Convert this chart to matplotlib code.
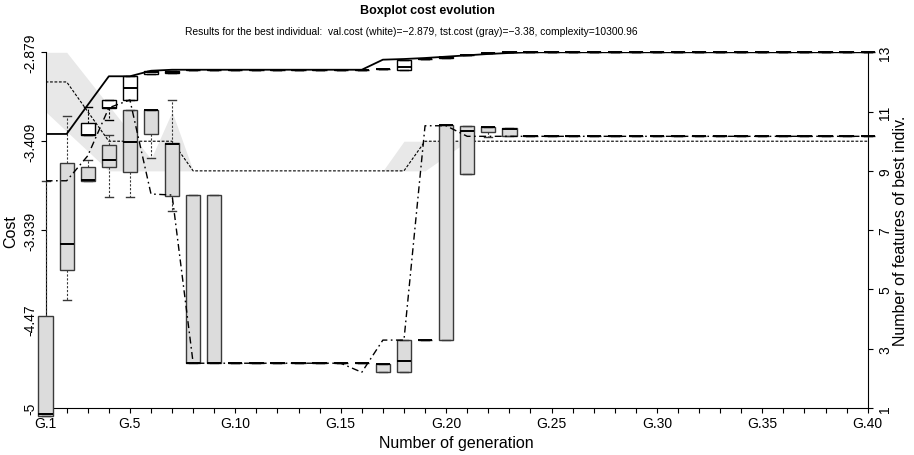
import matplotlib.pyplot as plt
import numpy as np

plt.rcParams['font.family'] = ['Liberation Sans', 'DejaVu Sans']

nan = np.nan
generations = np.arange(1, 41)
label_gens = [1, 5, 10, 15, 20, 25, 30, 35, 40]

# validation cost per generation (white boxes)
val_lo = [nan, nan, -3.370, -3.283, -3.162, -3.008, -3.004, -2.983, -2.983, -2.983,
          -2.983, -2.983, -2.983, -2.983, -2.983, -2.983, -2.979, -2.983, -2.919, -2.913,
          -2.897, -2.885, -2.879, -2.879, -2.879, -2.879, -2.879, -2.879, -2.879, -2.879,
          -2.879, -2.879, -2.879, -2.879, -2.879, -2.879, -2.879, -2.879, -2.879, -2.879]
val_q1 = [nan, nan, -3.370, -3.213, -3.162, -3.008, -3.004, -2.983, -2.983, -2.983,
          -2.983, -2.983, -2.983, -2.983, -2.983, -2.983, -2.979, -2.983, -2.919, -2.913,
          -2.897, -2.885, -2.879, -2.879, -2.879, -2.879, -2.879, -2.879, -2.879, -2.879,
          -2.879, -2.879, -2.879, -2.879, -2.879, -2.879, -2.879, -2.879, -2.879, -2.879]
val_med = [nan, nan, -3.370, -3.213, -3.092, -2.999, -2.998, -2.983, -2.983, -2.983,
           -2.983, -2.983, -2.983, -2.983, -2.983, -2.983, -2.979, -2.965, -2.919, -2.905,
           -2.895, -2.885, -2.879, -2.879, -2.879, -2.879, -2.879, -2.879, -2.879, -2.879,
           -2.879, -2.879, -2.879, -2.879, -2.879, -2.879, -2.879, -2.879, -2.879, -2.879]
val_q3 = [nan, nan, -3.302, -3.163, -3.022, -2.992, -2.992, -2.983, -2.983, -2.983,
          -2.983, -2.983, -2.983, -2.983, -2.983, -2.983, -2.979, -2.923, -2.919, -2.905,
          -2.893, -2.885, -2.879, -2.879, -2.879, -2.879, -2.879, -2.879, -2.879, -2.879,
          -2.879, -2.879, -2.879, -2.879, -2.879, -2.879, -2.879, -2.879, -2.879, -2.879]
val_hi = [nan, nan, -3.207, -3.163, -3.022, -2.992, -2.992, -2.983, -2.983, -2.983,
          -2.983, -2.983, -2.983, -2.983, -2.983, -2.983, -2.979, -2.923, -2.919, -2.905,
          -2.893, -2.885, -2.879, -2.879, -2.879, -2.879, -2.879, -2.879, -2.879, -2.879,
          -2.879, -2.879, -2.879, -2.879, -2.879, -2.879, -2.879, -2.879, -2.879, -2.879]

# test cost per generation (gray boxes)
tst_lo = [-5.046, -4.354, -3.648, -3.740, -3.740, -3.509, -3.823, -4.733, -4.733, -4.733,
          -4.733, -4.733, -4.733, -4.733, -4.733, -4.733, -4.787, -4.787, -4.595, -4.595,
          -3.605, -3.386, -3.380, -3.380, -3.380, -3.380, -3.380, -3.380, -3.380, -3.380,
          -3.380, -3.380, -3.380, -3.380, -3.380, -3.380, -3.380, -3.380, -3.380, -3.380]
tst_q1 = [-5.046, -4.175, -3.648, -3.561, -3.595, -3.366, -3.734, -4.733, -4.733, -4.733,
          -4.733, -4.733, -4.733, -4.733, -4.733, -4.733, -4.787, -4.787, -4.595, -4.595,
          -3.605, -3.356, -3.380, -3.380, -3.380, -3.380, -3.380, -3.380, -3.380, -3.380,
          -3.380, -3.380, -3.380, -3.380, -3.380, -3.380, -3.380, -3.380, -3.380, -3.380]
tst_med = [-5.036, -4.024, -3.640, -3.519, -3.416, -3.226, -3.426, -4.733, -4.733, -4.733,
           -4.733, -4.733, -4.733, -4.733, -4.733, -4.733, -4.740, -4.722, -4.595, -3.312,
           -3.350, -3.326, -3.336, -3.380, -3.380, -3.380, -3.380, -3.380, -3.380, -3.380,
           -3.380, -3.380, -3.380, -3.380, -3.380, -3.380, -3.380, -3.380, -3.380, -3.380]
tst_q3 = [-4.451, -3.541, -3.561, -3.430, -3.221, -3.221, -3.420, -3.730, -3.730, -4.733,
          -4.733, -4.733, -4.733, -4.733, -4.733, -4.733, -4.738, -4.595, -4.595, -3.312,
          -3.320, -3.323, -3.332, -3.380, -3.380, -3.380, -3.380, -3.380, -3.380, -3.380,
          -3.380, -3.380, -3.380, -3.380, -3.380, -3.380, -3.380, -3.380, -3.380, -3.380]
tst_hi = [-3.645, -3.261, -3.519, -3.370, -3.221, -3.221, -3.163, -3.730, -3.730, -4.733,
          -4.733, -4.733, -4.733, -4.733, -4.733, -4.733, -4.738, -4.595, -4.595, -3.312,
          -3.320, -3.323, -3.332, -3.380, -3.380, -3.380, -3.380, -3.380, -3.380, -3.380,
          -3.380, -3.380, -3.380, -3.380, -3.380, -3.380, -3.380, -3.380, -3.380, -3.380]

# best individual of each generation
best_val = [-3.366, -3.366, -3.193, -3.022, -3.022, -2.989, -2.983, -2.983, -2.983, -2.983,
            -2.983, -2.983, -2.983, -2.983, -2.983, -2.983, -2.923, -2.919, -2.913, -2.905,
            -2.897, -2.889, -2.883, -2.879, -2.879, -2.879, -2.879, -2.879, -2.879, -2.879,
            -2.879, -2.879, -2.879, -2.879, -2.879, -2.879, -2.879, -2.879, -2.879, -2.879]
best_tst = [-3.645, -3.645, -3.496, -3.210, -3.163, -3.724, -3.730, -4.733, -4.733, -4.733,
            -4.733, -4.733, -4.733, -4.733, -4.733, -4.787, -4.595, -4.595, -3.317, -3.317,
            -3.380, -3.380, -3.380, -3.380, -3.380, -3.380, -3.380, -3.380, -3.380, -3.380,
            -3.380, -3.380, -3.380, -3.380, -3.380, -3.380, -3.380, -3.380, -3.380, -3.380]

# number of features: best individual and population range
best_nfs = [12, 12, 11, 10, 10, 10, 10, 9, 9, 9,
            9, 9, 9, 9, 9, 9, 9, 9, 10, 10,
            10, 10, 10, 10, 10, 10, 10, 10, 10, 10,
            10, 10, 10, 10, 10, 10, 10, 10, 10, 10]
nfs_hi = [13, 13, 12.1, 11.2, 10.3, 9.4, 11, 9, 9, 9,
          9, 9, 9, 9, 9, 9, 9, 10, 10, 10,
          10, 10, 10, 10, 10, 10, 10, 10, 10, 10,
          10, 10, 10, 10, 10, 10, 10, 10, 10, 10]
nfs_lo = [11, 10.33, 9.67, 9, 9, 9, 9, 9, 9, 9,
          9, 9, 9, 9, 9, 9, 9, 9, 9, 9.5,
          10, 10, 10, 10, 10, 10, 10, 10, 10, 10,
          10, 10, 10, 10, 10, 10, 10, 10, 10, 10]

cost_ticks = [-5, -4.47, -3.939, -3.409, -2.879]
nfs_ticks = [1, 3, 5, 7, 9, 11, 13]


def box_stats(lo, q1, med, q3, hi):
    stats, pos = [], []
    for g, a, b, c, d, e in zip(generations, lo, q1, med, q3, hi):
        if np.isnan(c):
            continue
        stats.append(dict(whislo=a, q1=b, med=c, q3=d, whishi=e, fliers=[]))
        pos.append(g)
    return stats, pos


def draw_boxes(ax, lo, q1, med, q3, hi, face, edge):
    stats, pos = box_stats(lo, q1, med, q3, hi)
    art = ax.bxp(stats, positions=pos, widths=0.68, patch_artist=True,
                 showfliers=False, manage_ticks=False, capwidths=0.38,
                 boxprops=dict(facecolor=face, edgecolor=edge, linewidth=1.0),
                 medianprops=dict(color='black', linewidth=1.4, solid_capstyle='butt'),
                 whiskerprops=dict(color=edge, linewidth=0.8, linestyle=(0, (2, 1.5))),
                 capprops=dict(color=edge, linewidth=1.0),
                 zorder=3)
    for group in art.values():
        for a in group:
            a.set_clip_on(False)


fig = plt.figure(figsize=(9.14, 4.56), dpi=100)
rect = [0.04989, 0.10307, 0.89946, 0.78004]
ax = fig.add_axes(rect)
ax2 = ax.twinx()
ax.set_zorder(ax2.get_zorder() + 1)
ax.patch.set_visible(False)

# features on the right axis, behind the boxes
ax2.fill_between(generations, nfs_lo, nfs_hi, color='#e8e8e8', linewidth=0, zorder=1)
ax2.plot(generations, best_nfs, color='black', linewidth=0.8,
         linestyle=(0, (2.5, 1.5)), zorder=2)
ax2.set_ylim(1, 13)
ax2.set_yticks(nfs_ticks)
ax2.set_yticklabels([str(t) for t in nfs_ticks], rotation=90, va='center')
ax2.tick_params(axis='y', length=3.5, width=0.8, pad=4, labelsize=10)
ax2.set_ylabel('Number of features of best indiv.', fontsize=11.5)
ax2.yaxis.set_label_coords(1.031, 0.5)

# cost boxes and best-individual lines
draw_boxes(ax, val_lo, val_q1, val_med, val_q3, val_hi, 'white', 'black')
draw_boxes(ax, tst_lo, tst_q1, tst_med, tst_q3, tst_hi, '#dcdcdc', '#3a3a3a')
ax.plot(generations, best_val, color='black', linewidth=1.3, zorder=4)
ax.plot(generations, best_tst, color='black', linewidth=1.0,
        linestyle=(0, (5, 2.5, 1.2, 2.5)), zorder=4)

ax.set_xlim(1, 40)
ax.set_ylim(-5, -2.879)
ax.set_xticks(generations)
ax.set_xticklabels(['G.%d' % g if g in label_gens else '' for g in generations])
ax.tick_params(axis='x', length=3.5, width=0.8, pad=2, labelsize=10)
ax.set_yticks(cost_ticks)
ax.set_yticklabels([('%g' % t) for t in cost_ticks], rotation=90, va='center')
ax.tick_params(axis='y', length=3.5, width=0.8, pad=2.5, labelsize=10)
ax.set_ylabel('Cost', fontsize=11.5)
ax.yaxis.set_label_coords(-0.0336, 0.5)
ax.set_xlabel('Number of generation', fontsize=11.5)
ax.xaxis.set_label_coords(0.5, -0.076)

for a in (ax, ax2):
    a.spines['top'].set_visible(False)
    for s in a.spines.values():
        s.set_linewidth(0.8)
ax.spines['right'].set_visible(False)
ax2.spines['left'].set_visible(False)
ax2.spines['bottom'].set_visible(False)

fig.text(0.4677, 0.976, 'Boxplot cost evolution', ha='center', va='center',
         fontsize=9, fontweight='bold')
fig.text(0.450, 0.929, 'Results for the best individual:  val.cost (white)=\u22122.879, '
         'tst.cost (gray)=\u22123.38, complexity=10300.96',
         ha='center', va='center', fontsize=7.4)

plt.savefig('out.png', dpi=100)
